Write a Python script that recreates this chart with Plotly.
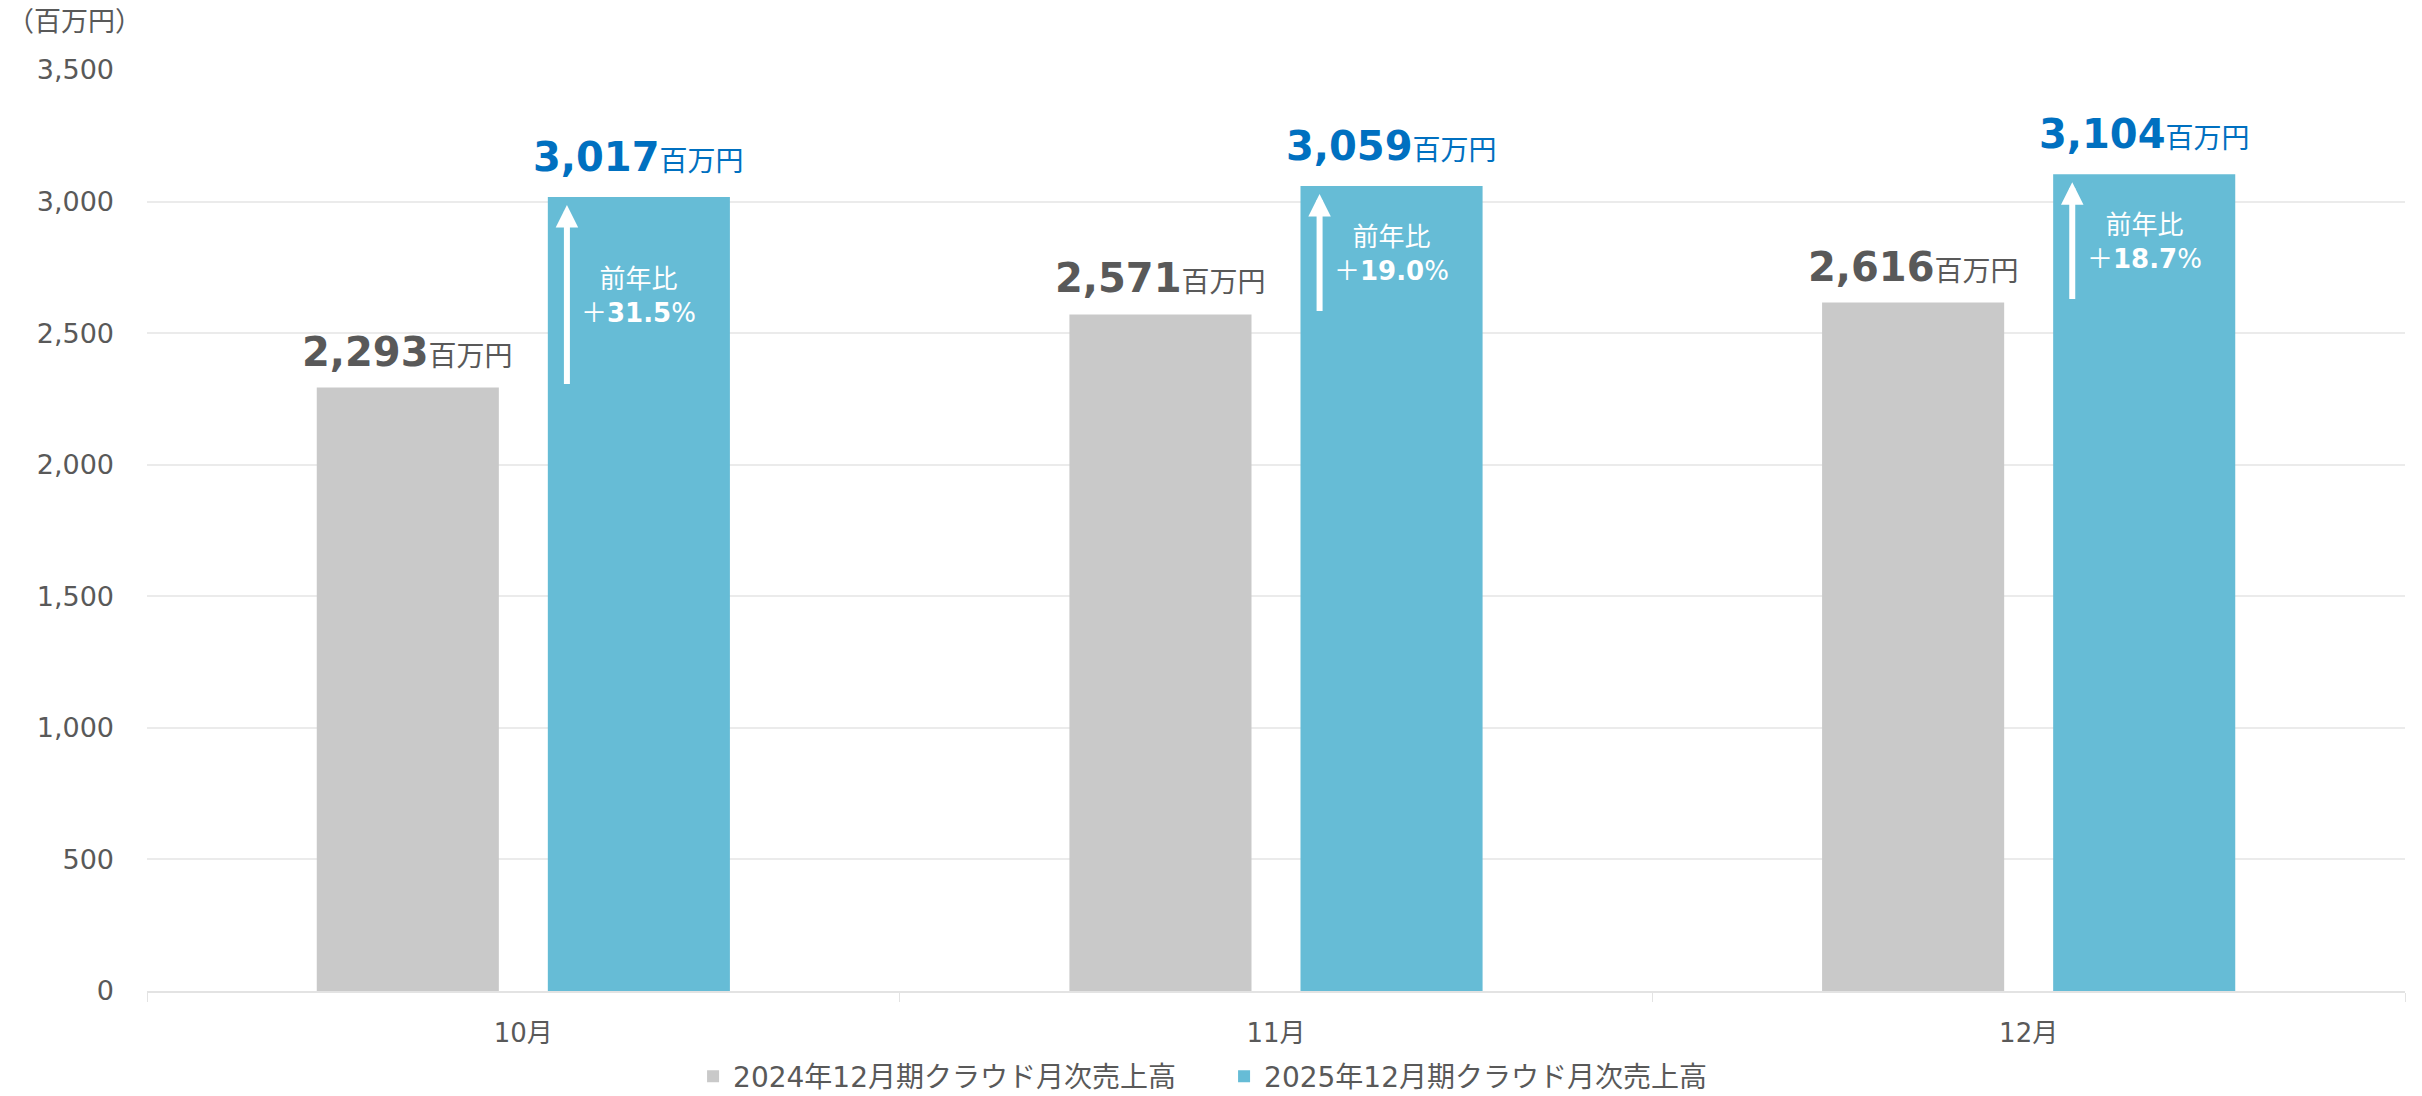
import plotly.graph_objects as go

# ---------------- data ----------------
months = ["10月", "11月", "12月"]
sales_2024 = [2293, 2571, 2616]
sales_2025 = [3017, 3059, 3104]
yoy_pct = ["31.5", "19.0", "18.7"]
series_names = ["2024年12月期クラウド月次売上高", "2025年12月期クラウド月次売上高"]
y_unit = "（百万円）"
value_unit = "百万円"

# ---------------- style ----------------
W, H = 2422, 1096
M_L, M_R, M_T, M_B = 147, 17, 70, 105
Y_MAX = 3500
GRAY = "#C9C9C9"
BLUE = "#66BCD6"
TXT = "#595959"
BLUE_TXT = "#0070C0"
FONT = "DejaVu Sans, Noto Sans CJK JP, sans-serif"
BARGAP = 0.386
BARGROUPGAP = 0.212

plot_h = H - M_T - M_B
plot_w = W - M_L - M_R
units_per_px = Y_MAX / plot_h
slot = (1 - BARGAP) / 2
off_gray = -slot / 2
off_blue = slot / 2
arrow_inset = 0.0956      # arrow left of blue-bar centre (category units)
tip_gap = 8 * units_per_px
tail_gap = 2 * units_per_px

fig = go.Figure()
fig.add_trace(go.Bar(x=months, y=sales_2024, name=series_names[0],
                     marker=dict(color=GRAY, line=dict(width=0)), hoverinfo="skip"))
fig.add_trace(go.Bar(x=months, y=sales_2025, name=series_names[1],
                     marker=dict(color=BLUE, line=dict(width=0)), hoverinfo="skip"))
fig.add_trace(go.Scatter(x=[], y=[], xaxis="x2", yaxis="y", showlegend=False, hoverinfo="skip"))

ann = []
for i in range(len(months)):
    g, b = sales_2024[i], sales_2025[i]
    ann.append(dict(xref="x2", yref="y", x=i + off_gray, y=g, yanchor="bottom", xanchor="center",
                    yshift=11, showarrow=False,
                    text=f"<b>{g:,}</b><span style='font-size:28px'>{value_unit}</span>",
                    font=dict(family=FONT, size=40, color=TXT)))
    ann.append(dict(xref="x2", yref="y", x=i + off_blue, y=b, yanchor="bottom", xanchor="center",
                    yshift=15, showarrow=False,
                    text=f"<b>{b:,}</b><span style='font-size:28px'>{value_unit}</span>",
                    font=dict(family=FONT, size=40, color=BLUE_TXT)))
    xa = i + off_blue - arrow_inset
    ann.append(dict(xref="x2", yref="y", axref="x2", ayref="y",
                    x=xa, y=b - tip_gap, ax=xa, ay=g + tail_gap, text="",
                    showarrow=True, arrowhead=2, arrowsize=0.75, arrowwidth=6,
                    arrowcolor="white", standoff=0, startstandoff=0))
    ann.append(dict(xref="x2", yref="y", x=i + off_blue, y=(g + b) / 2, yshift=-4,
                    xanchor="center", yanchor="middle", showarrow=False,
                    text=f"前年比<br>＋<b>{yoy_pct[i]}</b>%",
                    font=dict(family=FONT, size=26, color="white")))

ann.append(dict(xref="paper", yref="paper", x=(5 - M_L) / plot_w, y=(plot_h + M_T - 22) / plot_h,
                xanchor="left", yanchor="middle", showarrow=False, text=y_unit,
                font=dict(family=FONT, size=27, color=TXT)))

fig.update_layout(
    width=W, height=H,
    margin=dict(l=M_L, r=M_R, t=M_T, b=M_B, autoexpand=False),
    paper_bgcolor="white", plot_bgcolor="white",
    barmode="group", bargap=BARGAP, bargroupgap=BARGROUPGAP,
    font=dict(family=FONT, color=TXT),
    xaxis=dict(type="category", range=[-0.5, 2.5], showgrid=False, showline=True,
               linecolor="#E3E3E3", linewidth=2, ticks="outside", tickson="boundaries",
               ticklen=9, tickwidth=1, tickcolor="#E3E3E3", ticklabelstandoff=18,
               tickfont=dict(family=FONT, size=26, color=TXT), zeroline=False,
               automargin=False),
    xaxis2=dict(overlaying="x", range=[-0.5, 2.5], visible=False, anchor="y"),
    yaxis=dict(range=[0, Y_MAX], dtick=500, tickformat=",", showgrid=True,
               gridcolor="#EBEBEB", gridwidth=2, zeroline=False, showline=False,
               ticks="", ticklabelstandoff=32, automargin=False,
               tickfont=dict(family=FONT, size=27, color=TXT)),
    legend=dict(orientation="h", x=0.477, xanchor="center", y=-0.093, yanchor="middle",
                font=dict(family=FONT, size=28, color=TXT), itemwidth=30,
                entrywidth=486, entrywidthmode="pixels",
                bgcolor="rgba(0,0,0,0)"),
    annotations=ann,
    showlegend=True,
)

fig.write_html("out.html", config={"displayModeBar": False},
               post_script="document.body.style.margin='0';document.body.style.overflow='hidden';")
